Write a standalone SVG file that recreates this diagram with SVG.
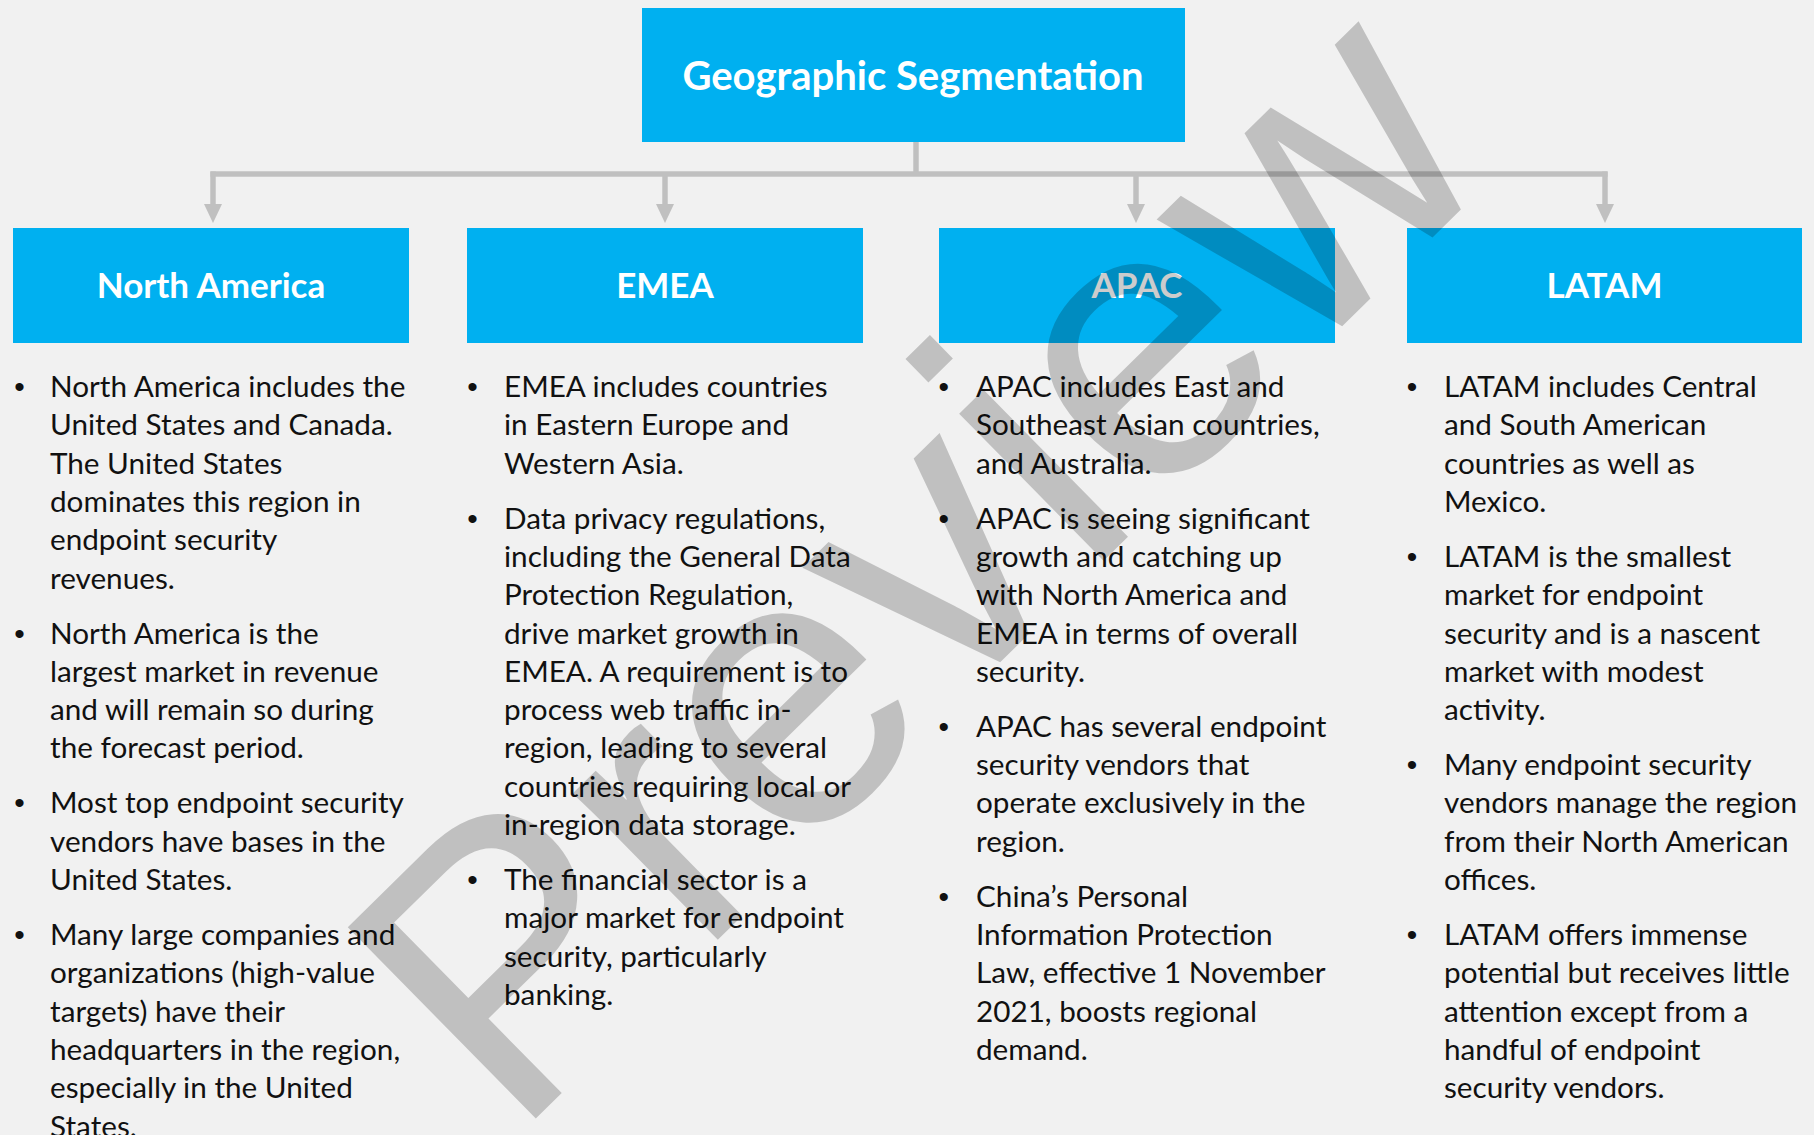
<svg xmlns="http://www.w3.org/2000/svg" width="1814" height="1135" viewBox="0 0 1814 1135">
<defs>
<style>
.box{fill:#00B0F0}
.hdr{font-family:Lato,"Open Sans",sans-serif;font-weight:bold;font-size:35px;fill:#fff;text-anchor:middle}
.ttl{font-family:Lato,"Open Sans",sans-serif;font-weight:bold;font-size:40px;fill:#fff;text-anchor:middle}
.body{font-family:Lato,"Open Sans",sans-serif;font-size:29.7px;fill:#111}
.bul{font-family:"Liberation Sans",Arial,sans-serif;font-size:30px;fill:#111;text-anchor:middle}
.conn{stroke:#c0c0c0;stroke-width:5.5;fill:none}
.wm{font-family:"Liberation Sans",Arial,sans-serif;font-size:390px;fill:#000;fill-opacity:0.2}
</style>
<marker id="arr" markerUnits="userSpaceOnUse" viewBox="0 0 19 18" markerWidth="19" markerHeight="18" refX="0" refY="9" orient="auto">
<path d="M0,0 L19,9 L0,18 Z" fill="#c0c0c0"/>
</marker>
</defs>
<rect x="0" y="0" width="1814" height="1135" fill="#f1f1f1"/>

<g id="connectors">
<line class="conn" x1="916" y1="142" x2="916" y2="174"/>
<line class="conn" x1="210.5" y1="174" x2="1607.5" y2="174"/>
<line class="conn" x1="213" y1="171.5" x2="213" y2="204" marker-end="url(#arr)"/>
<line class="conn" x1="665" y1="174" x2="665" y2="204" marker-end="url(#arr)"/>
<line class="conn" x1="1136" y1="174" x2="1136" y2="204" marker-end="url(#arr)"/>
<line class="conn" x1="1605" y1="171.5" x2="1605" y2="204" marker-end="url(#arr)"/>
</g>

<g id="node-root">
<rect class="box" x="642" y="8" width="543" height="134"/>
<text class="ttl" x="913" y="90">Geographic Segmentation</text>
</g>

<g id="node-na">
<rect class="box" x="13" y="228" width="396" height="115"/>
<text class="hdr" x="211" y="298">North America</text>
</g>
<g id="node-emea">
<rect class="box" x="467" y="228" width="396" height="115"/>
<text class="hdr" x="665" y="298">EMEA</text>
</g>
<g id="node-apac">
<rect class="box" x="939" y="228" width="396" height="115"/>
<text class="hdr" x="1137" y="298">APAC</text>
</g>
<g id="node-latam">
<rect class="box" x="1407" y="228" width="395" height="115"/>
<text class="hdr" x="1604.5" y="298">LATAM</text>
</g>

<g id="notes-na">
<text class="bul" x="19.5" y="397">•</text>
<text class="body" x="50" y="397"><tspan x="50" dy="0">North America includes the</tspan><tspan x="50" dy="38.3">United States and Canada.</tspan><tspan x="50" dy="38.3">The United States</tspan><tspan x="50" dy="38.3">dominates this region in</tspan><tspan x="50" dy="38.3">endpoint security</tspan><tspan x="50" dy="38.3">revenues.</tspan></text>
<text class="bul" x="19.5" y="643.5">•</text>
<text class="body" x="50" y="643.5"><tspan x="50" dy="0">North America is the</tspan><tspan x="50" dy="38.3">largest market in revenue</tspan><tspan x="50" dy="38.3">and will remain so during</tspan><tspan x="50" dy="38.3">the forecast period.</tspan></text>
<text class="bul" x="19.5" y="813.4">•</text>
<text class="body" x="50" y="813.4"><tspan x="50" dy="0">Most top endpoint security</tspan><tspan x="50" dy="38.3">vendors have bases in the</tspan><tspan x="50" dy="38.3">United States.</tspan></text>
<text class="bul" x="19.5" y="945">•</text>
<text class="body" x="50" y="945"><tspan x="50" dy="0">Many large companies and</tspan><tspan x="50" dy="38.3">organizations (high-value</tspan><tspan x="50" dy="38.3">targets) have their</tspan><tspan x="50" dy="38.3">headquarters in the region,</tspan><tspan x="50" dy="38.3">especially in the United</tspan><tspan x="50" dy="38.3">States.</tspan></text>
</g>

<g id="notes-emea">
<text class="bul" x="472.5" y="397">•</text>
<text class="body" x="504" y="397"><tspan x="504" dy="0">EMEA includes countries</tspan><tspan x="504" dy="38.3">in Eastern Europe and</tspan><tspan x="504" dy="38.3">Western Asia.</tspan></text>
<text class="bul" x="472.5" y="528.6">•</text>
<text class="body" x="504" y="528.6"><tspan x="504" dy="0">Data privacy regulations,</tspan><tspan x="504" dy="38.3">including the General Data</tspan><tspan x="504" dy="38.3">Protection Regulation,</tspan><tspan x="504" dy="38.3">drive market growth in</tspan><tspan x="504" dy="38.3">EMEA. A requirement is to</tspan><tspan x="504" dy="38.3">process web traffic in-</tspan><tspan x="504" dy="38.3">region, leading to several</tspan><tspan x="504" dy="38.3">countries requiring local or</tspan><tspan x="504" dy="38.3">in-region data storage.</tspan></text>
<text class="bul" x="472.5" y="890">•</text>
<text class="body" x="504" y="890"><tspan x="504" dy="0">The financial sector is a</tspan><tspan x="504" dy="38.3">major market for endpoint</tspan><tspan x="504" dy="38.3">security, particularly</tspan><tspan x="504" dy="38.3">banking.</tspan></text>
</g>

<g id="notes-apac">
<text class="bul" x="943.8" y="397">•</text>
<text class="body" x="976" y="397"><tspan x="976" dy="0">APAC includes East and</tspan><tspan x="976" dy="38.3">Southeast Asian countries,</tspan><tspan x="976" dy="38.3">and Australia.</tspan></text>
<text class="bul" x="943.8" y="528.6">•</text>
<text class="body" x="976" y="528.6"><tspan x="976" dy="0">APAC is seeing significant</tspan><tspan x="976" dy="38.3">growth and catching up</tspan><tspan x="976" dy="38.3">with North America and</tspan><tspan x="976" dy="38.3">EMEA in terms of overall</tspan><tspan x="976" dy="38.3">security.</tspan></text>
<text class="bul" x="943.8" y="736.8">•</text>
<text class="body" x="976" y="736.8"><tspan x="976" dy="0">APAC has several endpoint</tspan><tspan x="976" dy="38.3">security vendors that</tspan><tspan x="976" dy="38.3">operate exclusively in the</tspan><tspan x="976" dy="38.3">region.</tspan></text>
<text class="bul" x="943.8" y="906.7">•</text>
<text class="body" x="976" y="906.7"><tspan x="976" dy="0">China’s Personal</tspan><tspan x="976" dy="38.3">Information Protection</tspan><tspan x="976" dy="38.3">Law, effective 1 November</tspan><tspan x="976" dy="38.3">2021, boosts regional</tspan><tspan x="976" dy="38.3">demand.</tspan></text>
</g>

<g id="notes-latam">
<text class="bul" x="1412" y="397">•</text>
<text class="body" x="1444" y="397"><tspan x="1444" dy="0">LATAM includes Central</tspan><tspan x="1444" dy="38.3">and South American</tspan><tspan x="1444" dy="38.3">countries as well as</tspan><tspan x="1444" dy="38.3">Mexico.</tspan></text>
<text class="bul" x="1412" y="566.9">•</text>
<text class="body" x="1444" y="566.9"><tspan x="1444" dy="0">LATAM is the smallest</tspan><tspan x="1444" dy="38.3">market for endpoint</tspan><tspan x="1444" dy="38.3">security and is a nascent</tspan><tspan x="1444" dy="38.3">market with modest</tspan><tspan x="1444" dy="38.3">activity.</tspan></text>
<text class="bul" x="1412" y="775.1">•</text>
<text class="body" x="1444" y="775.1"><tspan x="1444" dy="0">Many endpoint security</tspan><tspan x="1444" dy="38.3">vendors manage the region</tspan><tspan x="1444" dy="38.3">from their North American</tspan><tspan x="1444" dy="38.3">offices.</tspan></text>
<text class="bul" x="1412" y="945">•</text>
<text class="body" x="1444" y="945"><tspan x="1444" dy="0">LATAM offers immense</tspan><tspan x="1444" dy="38.3">potential but receives little</tspan><tspan x="1444" dy="38.3">attention except from a</tspan><tspan x="1444" dy="38.3">handful of endpoint</tspan><tspan x="1444" dy="38.3">security vendors.</tspan></text>
</g>

<g id="watermark">
<text class="wm" x="0" y="0" transform="translate(513,1141) rotate(-44.5)">Preview</text>
</g>
</svg>
